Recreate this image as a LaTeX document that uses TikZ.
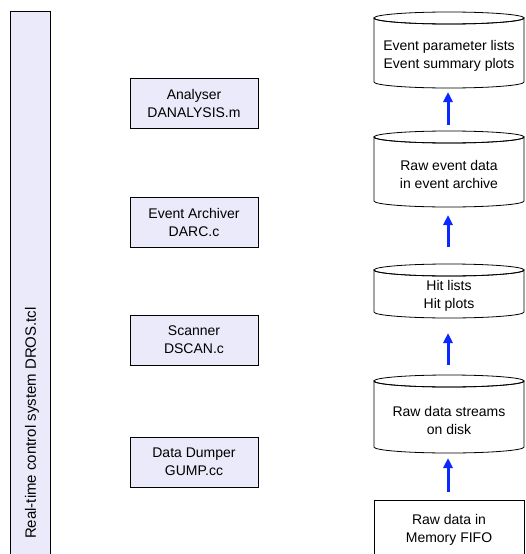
\documentclass[tikz,border=0pt]{standalone}
\usepackage{fontspec}
\setmainfont{Liberation Sans}
\usetikzlibrary{arrows.meta}
\definecolor{lav}{RGB}{234,234,250}
\definecolor{flowblue}{RGB}{10,40,255}
\newcommand\mycyl[3]{% top-ellipse centre y, bottom arc centre y, name
  \draw[line width=0.8pt, fill=white] (374,#1) -- (374,#2)
     arc[start angle=180, end angle=0, x radius=75, y radius=6]
     -- (524,#1) arc[start angle=0, end angle=180, x radius=75, y radius=6] -- cycle;
  \draw[line width=0.8pt] (449,#1) ellipse[x radius=75, y radius=6];
}
\begin{document}
\begin{tikzpicture}[x=1pt,y=-1pt, font=\fontsize{14}{18}\selectfont,
  proc/.style={draw, fill=lav, line width=0.8pt, minimum width=128pt, minimum height=50pt, align=center, inner sep=0pt},
  lbl/.style={align=center, inner sep=0pt},
  flow/.style={-{Triangle[width=9pt,length=10pt]}, line width=3pt, draw=flowblue}]
\useasboundingbox (0,0) rectangle (525,554);
% left bar
\draw[line width=0.8pt, fill=lav] (10,560) -- (10,11) -- (50,11) -- (50,560);
\node[rotate=90, inner sep=0pt, font=\fontsize{15}{18}\selectfont] (dros) at (32,423) {Real-time control system DROS.tcl};
% processes
\node[proc] (ana) at (194,103) {Analyser\\DANALYSIS.m};
\node[proc] (arc) at (194,222) {Event Archiver\\DARC.c};
\node[proc] (scan) at (194,340) {Scanner\\DSCAN.c};
\node[proc] (dump) at (194,462) {Data Dumper\\GUMP.cc};
% cylinders
\mycyl{18}{82}{c1}
\mycyl{137}{201}{c2}
\mycyl{270}{312}{c3}
\mycyl{381}{447}{c4}
\node[lbl] (t1) at (449,56) {Event parameter lists\\Event summary plots};
\node[lbl] (t2) at (449,174) {Raw event data\\in event archive};
\node[lbl] (t3) at (449,296) {Hit lists\\Hit plots};
\node[lbl] (t4) at (449,420) {Raw data streams\\on disk};
% FIFO
\draw[line width=0.8pt, fill=white] (374,560) -- (374,500) -- (524.5,500) -- (524.5,560);
\node[lbl] (fifo) at (449,530) {Raw data in\\Memory FIFO};
% arrows
\coordinate (a1s) at (448,125); \coordinate (a1e) at (448,92);
\coordinate (a2s) at (448,247); \coordinate (a2e) at (448,215);
\coordinate (a3s) at (448,365); \coordinate (a3e) at (448,333);
\coordinate (a4s) at (448,492); \coordinate (a4e) at (448,458);
\draw[flow] (a1s) -- (a1e);
\draw[flow] (a2s) -- (a2e);
\draw[flow] (a3s) -- (a3e);
\draw[flow] (a4s) -- (a4e);
\end{tikzpicture}
\end{document}
